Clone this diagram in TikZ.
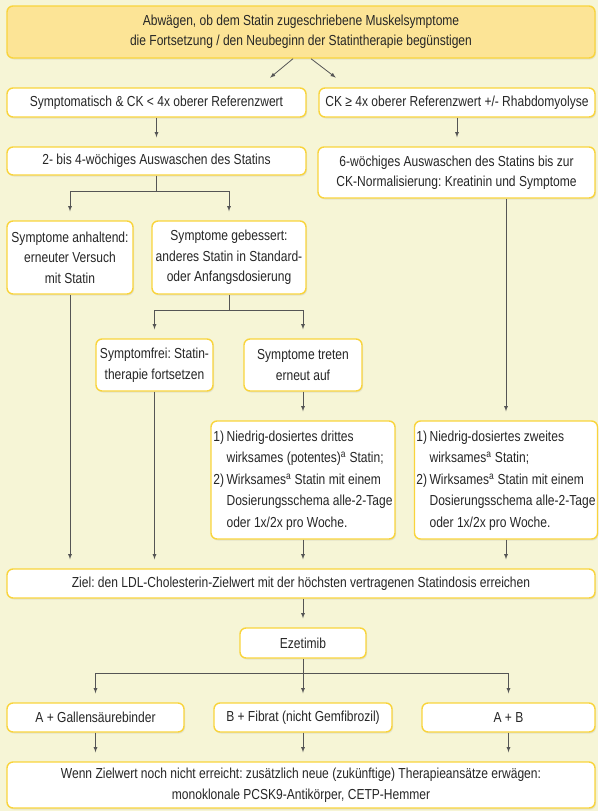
\documentclass[tikz,border=0pt]{standalone}
\usepackage{fontspec}
\setmainfont{Liberation Sans}[FakeStretch=0.83]
\usetikzlibrary{shadows}
\frenchspacing

\definecolor{bgcream}{RGB}{246,245,214}
\definecolor{boxline}{RGB}{249,212,60}
\definecolor{topfill}{RGB}{252,228,150}
\definecolor{txtgray}{RGB}{38,38,38}
\definecolor{linegray}{RGB}{85,85,85}

\tikzset{
  box/.style={draw=boxline, line width=1.4pt, fill=white, rounded corners=6pt,
    align=center, text=txtgray, inner sep=2pt, font=\fontsize{14.5}{20.5}\selectfont,
    drop shadow={opacity=0.15, shadow xshift=1pt, shadow yshift=-1.5pt}},
  conn/.style={draw=linegray, line width=0.8pt},
  arr/.style={conn, -latex, shorten >=9pt},
}

\begin{document}
\begin{tikzpicture}[x=1pt,y=-1pt]
  \fill[bgcream] (0,0) rectangle (598,811);
  \useasboundingbox (0,0) rectangle (598,811);
  \node[box, fill=topfill, minimum width=588pt, minimum height=52pt] (abw) at (301,32)
    {Abwägen, ob dem Statin zugeschriebene Muskelsymptome\\die Fortsetzung / den Neubeginn der Statintherapie begünstigen};
  \node[box, minimum width=299pt, minimum height=29pt] (sym) at (156.5,102.5) {Symptomatisch \& CK < 4x oberer Referenzwert};
  \node[box, minimum width=276pt, minimum height=29pt] (ck) at (457,102.5) {CK ≥ 4x oberer Referenzwert +/- Rhabdomyolyse};
  \node[box, minimum width=299pt, minimum height=28pt] (wash) at (156.5,161) {2- bis 4-wöchiges Auswaschen des Statins};
  \node[box, minimum width=277pt, minimum height=51pt] (wash6) at (456.5,172.5)
    {6-wöchiges Auswaschen des Statins bis zur\\CK-Normalisierung: Kreatinin und Symptome};
  \node[box, minimum width=126pt, minimum height=73pt] (anh) at (70,257.5) {Symptome anhaltend:\\erneuter Versuch\\mit Statin};
  \node[box, minimum width=154pt, minimum height=73pt] (gebe) at (229,257.5) {Symptome gebessert:\\anderes Statin in Standard-\\oder Anfangsdosierung};
  \node[box, minimum width=117pt, minimum height=52pt] (frei) at (154.5,365) {Symptomfrei: Statin-\\therapie fortsetzen};
  \node[box, minimum width=118pt, minimum height=52pt] (tret) at (303,365) {Symptome treten\\erneut auf};
  \node[box, minimum width=184pt, minimum height=118pt, font=\fontsize{14.5}{21.5}\selectfont] (dritt) at (303,480)
    {\begin{tabular}{@{}l@{\,}l@{}}1)&Niedrig-dosiertes drittes\\&wirksames (potentes)\textsuperscript{a} Statin;\\2)&Wirksames\textsuperscript{a} Statin mit einem\\&Dosierungsschema alle-2-Tage\\&oder 1x/2x pro Woche.\end{tabular}};
  \node[box, minimum width=180pt, minimum height=118pt, font=\fontsize{14.5}{21.5}\selectfont] (zweit) at (506,480)
    {\begin{tabular}{@{}l@{\,}l@{}}1)&Niedrig-dosiertes zweites\\&wirksames\textsuperscript{a} Statin;\\2)&Wirksames\textsuperscript{a} Statin mit einem\\&Dosierungsschema alle-2-Tage\\&oder 1x/2x pro Woche.\end{tabular}};
  \node[box, minimum width=588pt, minimum height=29pt] (ziel) at (301,583.5)
    {Ziel: den LDL-Cholesterin-Zielwert mit der höchsten vertragenen Statindosis erreichen};
  \node[box, minimum width=126pt, minimum height=30pt] (ezet) at (303,643) {Ezetimib};
  \node[box, minimum width=177pt, minimum height=29pt] (gall) at (95.5,717.5) {A + Gallensäurebinder};
  \node[box, minimum width=178pt, minimum height=29pt] (fib) at (303,717.5) {B + Fibrat (nicht Gemfibrozil)};
  \node[box, minimum width=173pt, minimum height=29pt] (ab) at (508.5,717.5) {A + B};
  \node[box, minimum width=588pt, minimum height=46pt] (wenn) at (301,785)
    {Wenn Zielwert noch nicht erreicht: zusätzlich neue (zukünftige) Therapieansätze erwägen:\\monoklonale PCSK9-Antikörper, CETP-Hemmer};

  \draw[arr, shorten >=15pt] ([xshift=-8pt]abw.south) -- ([xshift=-42.5pt]abw.south |- sym.north);
  \draw[arr, shorten >=16pt] ([xshift=10pt]abw.south) -- ([xshift=47.5pt]abw.south |- ck.north);
  \draw[arr] (sym.south) -- (wash.north);
  \draw[arr] (ck.south) -- (ck.south |- wash6.north);
  \draw[conn] (wash.south) -- ++(0,16) coordinate (wsplit);
  \draw[arr] (wsplit) -| (anh.north);
  \draw[arr] (wsplit) -| (gebe.north);
  \draw[conn] (gebe.south) -- ++(0,16) coordinate (gsplit);
  \draw[arr] (gsplit) -| (frei.north);
  \draw[arr] (gsplit) -| (tret.north);
  \draw[arr] (tret.south) -- (dritt.north);
  \draw[arr] (zweit.north |- wash6.south) -- (zweit.north);
  \foreach \n in {anh,frei,dritt,zweit}
    \draw[arr] (\n.south) -- (\n.south |- ziel.north);
  \draw[arr] (ezet.north |- ziel.south) -- (ezet.north);
  \draw[conn] (ezet.south) -- ++(0,15) coordinate (esplit);
  \draw[arr] (esplit) -| (gall.north);
  \draw[arr] (esplit) -- (fib.north);
  \draw[arr] (esplit) -| (ab.north);
  \foreach \n in {gall,fib,ab}
    \draw[arr] (\n.south) -- (\n.south |- wenn.north);
\end{tikzpicture}
\end{document}
